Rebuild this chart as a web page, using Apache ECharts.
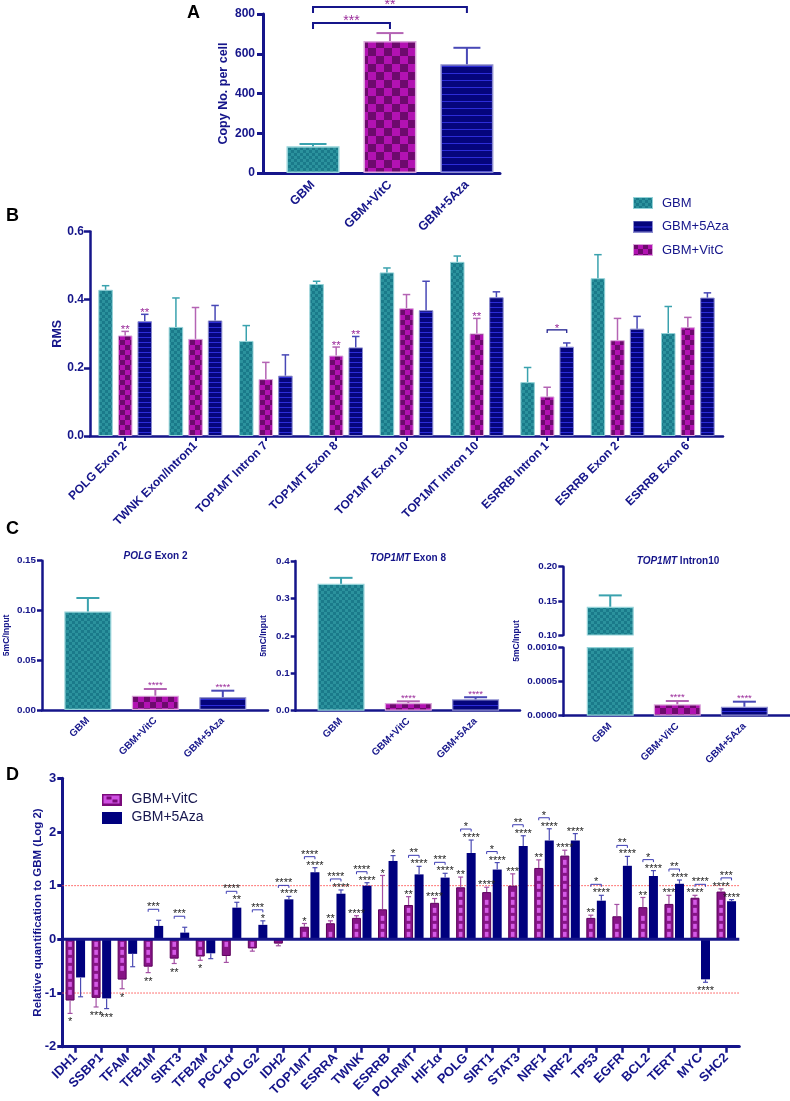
<!DOCTYPE html>
<html><head><meta charset="utf-8">
<script src="https://cdn.jsdelivr.net/npm/echarts@6/dist/echarts.min.js"></script>
<style>html,body{margin:0;padding:0;background:#fff}#c{width:790px;height:1101px}</style>
</head><body><div id="c"></div>
<script>
// ================= DATA =================
const groups = ['GBM', 'GBM+VitC', 'GBM+5Aza'];

// Panel A – copy number
const copyNo = [134, 664, 547];
const copyNoErr = [12, 40, 83];
const copyNoSig = [[0, 1, '***'], [0, 2, '**']];

// Panel B – RMS
const rmsSites = ['POLG Exon 2', 'TWNK Exon/Intron1', 'TOP1MT Intron 7', 'TOP1MT Exon 8', 'TOP1MT Exon 10', 'TOP1MT Intron 10', 'ESRRB Intron 1', 'ESRRB Exon 2', 'ESRRB Exon 6'];
const rmsGBM = [0.429, 0.320, 0.279, 0.446, 0.480, 0.511, 0.158, 0.463, 0.302];
const rmsGBMErr = [0.012, 0.085, 0.045, 0.008, 0.013, 0.017, 0.043, 0.069, 0.078];
const rmsVitC = [0.295, 0.285, 0.167, 0.236, 0.375, 0.301, 0.116, 0.281, 0.319];
const rmsVitCErr = [0.012, 0.092, 0.049, 0.025, 0.040, 0.044, 0.027, 0.064, 0.029];
const rmsAza = [0.337, 0.339, 0.177, 0.260, 0.369, 0.407, 0.262, 0.315, 0.406];
const rmsAzaErr = [0.020, 0.044, 0.061, 0.032, 0.085, 0.016, 0.011, 0.036, 0.014];
const rmsVitCSig = ['**', '', '', '**', '', '**', '', '', ''];
const rmsAzaSig = ['**', '', '', '**', '', '', '', '', ''];
const rmsPairSig = ['', '', '', '', '', '', '*', '', ''];

// Panel C – 5mC/Input
const cTitles = [['POLG', ' Exon 2'], ['TOP1MT', ' Exon 8'], ['TOP1MT', ' Intron10']];
const polgEx2 = [0.099, 0.0144, 0.0128];
const polgEx2Err = [0.0135, 0.0067, 0.0066];
const top1mtEx8 = [0.339, 0.0206, 0.0304];
const top1mtEx8Err = [0.016, 0.0045, 0.0056];
const top1mtIn10 = [0.1414, 0.000168, 0.000132];
const top1mtIn10Err = [0.0166, 0.000048, 0.000074];
const cSig = ['', '****', '****'];

// Panel D – relative quantification (log2)
const genes = ['IDH1', 'SSBP1', 'TFAM', 'TFB1M', 'SIRT3', 'TFB2M', 'PGC1α', 'POLG2', 'IDH2', 'TOP1MT', 'ESRRA', 'TWNK', 'ESRRB', 'POLRMT', 'HIF1α', 'POLG', 'SIRT1', 'STAT3', 'NRF1', 'NRF2', 'TP53', 'EGFR', 'BCL2', 'TERT', 'MYC', 'SHC2'];
const dVitC = [-1.14, -1.09, -0.75, -0.51, -0.36, -0.32, -0.31, -0.17, -0.08, 0.235, 0.30, 0.40, 0.56, 0.64, 0.68, 0.97, 0.88, 1.00, 1.33, 1.56, 0.40, 0.43, 0.60, 0.66, 0.775, 0.89];
const dVitCErr = [0.24, 0.17, 0.17, 0.11, 0.09, 0.07, 0.12, 0.05, 0.04, 0.06, 0.045, 0.04, 0.63, 0.155, 0.08, 0.19, 0.09, 0.22, 0.15, 0.10, 0.05, 0.22, 0.18, 0.16, 0.045, 0.05];
const dAza = [-0.71, -1.10, -0.27, 0.25, 0.125, -0.26, 0.59, 0.27, 0.745, 1.25, 0.85, 1.00, 1.46, 1.21, 1.15, 1.61, 1.30, 1.74, 1.84, 1.84, 0.72, 1.37, 1.18, 1.035, -0.745, 0.71];
const dAzaErr = [0.36, 0.19, 0.24, 0.105, 0.10, 0.10, 0.10, 0.075, 0.055, 0.085, 0.07, 0.055, 0.10, 0.15, 0.08, 0.24, 0.13, 0.19, 0.22, 0.13, 0.10, 0.175, 0.10, 0.07, 0.055, 0.03];
const dVitCSig = ['*', '***', '*', '**', '**', '*', '', '', '', '*', '**', '****', '*', '**', '****', '**', '****', '***', '**', '****', '**', '', '**', '***', '****', '****'];
const dAzaSig = ['', '***', '', '', '', '', '**', '*', '****', '****', '****', '****', '*', '****', '****', '****', '****', '****', '****', '****', '****', '****', '****', '****', '****', '****'];
const dPairSig = ['', '', '', '***', '***', '', '****', '***', '****', '****', '****', '****', '', '**', '***', '*', '*', '**', '*', '', '*', '**', '*', '**', '****', '***'];
const dRefLines = [1, -1];

// ================= STYLE =================
const AX = '#15158a';
const FF = '"Liberation Sans", Arial, Helvetica, sans-serif';
const PURPLE_TXT = '#9b2d9b';

function mkCanvas(w, h, fn) { const c = document.createElement('canvas'); c.width = w; c.height = h; fn(c.getContext('2d'), w, h); return c; }
function checker(cell, c1, c2) {
  return mkCanvas(cell * 2, cell * 2, g => { g.fillStyle = c1; g.fillRect(0, 0, cell * 2, cell * 2); g.fillStyle = c2; g.fillRect(0, 0, cell, cell); g.fillRect(cell, cell, cell, cell); });
}
function hlines(period, bg, fg) {
  return mkCanvas(4, period, g => { g.fillStyle = bg; g.fillRect(0, 0, 4, period); g.fillStyle = fg; g.fillRect(0, Math.floor(period / 2), 4, 1); });
}
const pat = c => ({ image: c, repeat: 'repeat' });
const tealA = '#1a7a8a', tealB = '#2b929d';
const magA = '#b212b2', magB = '#6d0a6d';
const navyA = '#05057c', navyB = '#2c2cd8';
const grpStyle = [
  { pat: s => pat(checker(s.tc, tealA, tealB)), border: '#93d2d8', err: '#3aa2ae' },
  { pat: s => pat(checker(s.mc, magA, magB)), border: '#dba6db', err: '#b464b4' },
  { pat: s => pat(hlines(s.lp, navyA, navyB)), border: '#8c8cd0', err: '#4848b6' }
];
function iconURL(fillCanvas, border) {
  return 'image://' + mkCanvas(20, 12, g => {
    g.fillStyle = g.createPattern(fillCanvas, 'repeat'); g.fillRect(0, 0, 20, 12);
    g.strokeStyle = border; g.lineWidth = 1; g.strokeRect(0.5, 0.5, 19, 11);
  }).toDataURL();
}
const dVitCIcon = 'image://' + mkCanvas(20, 12, g => {
  g.fillStyle = '#7a0a7a'; g.fillRect(0, 0, 20, 12);
  g.fillStyle = '#cf50e2'; g.fillRect(2, 2, 16, 8);
  g.fillStyle = '#7a0a7a'; g.fillRect(5, 3, 5, 3); g.fillRect(11, 6, 5, 3);
}).toDataURL();
const dAzaIcon = 'image://' + mkCanvas(20, 12, g => { g.fillStyle = '#00007e'; g.fillRect(0, 0, 20, 12); }).toDataURL();

function lbl(size, extra) { return Object.assign({ color: AX, fontWeight: 'bold', fontSize: size, fontFamily: FF }, extra || {}); }
function axLine(w) { return { show: true, onZero: false, lineStyle: { color: AX, width: w } }; }
function axTick(len, w, extra) { return Object.assign({ show: true, length: len, lineStyle: { color: AX, width: w } }, extra || {}); }
const noSplit = { show: false };
function yName(text, gap, size) {
  return { name: text, nameLocation: 'middle', nameGap: gap, nameRotate: 90, nameMoveOverlap: false, nameTextStyle: lbl(size) };
}

function starText(t, x, glyphY, fs, color) {
  return { type: 'text', silent: true, style: { text: t, x: x, y: glyphY + 0.23 * fs, font: fs + 'px ' + FF, fill: color, align: 'center', verticalAlign: 'middle', textAlign: 'center', textVerticalAlign: 'middle' } };
}
function errBars(o) {
  return {
    type: 'custom', xAxisIndex: o.g, yAxisIndex: o.g, silent: true, z: o.z || 4, clip: false,
    data: o.vals.map((v, i) => [i, v == null ? NaN : v, o.errs[i], i]),
    encode: { x: 0, y: 1 },
    renderItem: (params, api) => {
      const x = api.value(0), v = api.value(1), e = api.value(2), i = api.value(3);
      if (isNaN(v)) return null;
      const s = v < 0 ? -1 : 1;
      const p0 = api.coord([x, v]);
      const p1 = api.coord([x, v + s * e]);
      const cx = p0[0] + (o.off || 0);
      const ls = { stroke: o.color, lineWidth: o.lw };
      const kids = [
        { type: 'line', shape: { x1: cx, y1: p0[1], x2: cx, y2: p1[1] }, style: ls },
        { type: 'line', shape: { x1: cx - o.cap / 2, y1: p1[1], x2: cx + o.cap / 2, y2: p1[1] }, style: ls }
      ];
      const t = o.sig && o.sig[i];
      if (t) kids.push(starText(t, cx, s > 0 ? p1[1] - o.sgap : p1[1] + o.sgapNeg, o.sfs, o.scolor));
      return { type: 'group', children: kids };
    }
  };
}
// horizontal reference lines across a grid, drawn through the value axis
function hRefLines(g, values, stroke, width, dash, z) {
  return {
    type: 'custom', xAxisIndex: g, yAxisIndex: g, silent: true, z: z, clip: false,
    data: values.map(v => [0, v]), encode: { x: 0, y: 1 },
    renderItem: (params, api) => {
      const cs = params.coordSys;
      const y = api.coord([0, api.value(1)])[1];
      return { type: 'line', shape: { x1: cs.x, y1: y, x2: cs.x + cs.width, y2: y },
        style: { stroke: stroke, lineWidth: width, lineDash: dash || null } };
    }
  };
}

const series = [];
const xAxes = [], yAxes = [], grids = [];

// ---------- Panel A ----------
grids.push({ left: 263, top: 14, width: 237, height: 159 });
xAxes.push({ type: 'value', gridIndex: 0, min: -0.65, max: 2.43, axisLine: axLine(3), axisTick: { show: false }, splitLine: noSplit,
  axisLabel: lbl(12.5, { rotate: 45, margin: 10, customValues: [0, 1, 2], formatter: v => groups[Math.round(v)] }) });
yAxes.push(Object.assign({ type: 'value', gridIndex: 0, min: 0, max: 800, interval: 200, axisLine: axLine(3), axisTick: axTick(6, 3), splitLine: noSplit,
  axisLabel: lbl(12, { margin: 8 }) }, yName('Copy No. per cell', 33, 12.5)));
const styA = { tc: 3, mc: 8, lp: 7 };
series.push({ type: 'bar', xAxisIndex: 0, yAxisIndex: 0, barWidth: 53, z: 2,
  data: copyNo.map((v, i) => ({ value: [i, v], itemStyle: { color: grpStyle[i].pat(styA), borderColor: grpStyle[i].border, borderWidth: 1.5 } })) });
groups.forEach((gname, i) => {
  const vals = copyNo.map((v, j) => j === i ? v : null);
  series.push(errBars({ g: 0, vals, errs: copyNoErr, off: 0, cap: 27, color: grpStyle[i].err, lw: 2 }));
});
series.push({ type: 'custom', xAxisIndex: 0, yAxisIndex: 0, silent: true, z: 5, clip: false,
  data: copyNoSig.map((s, k) => [s[0], s[1], k]), encode: { x: 0, y: 1 },
  renderItem: (params, api) => {
    const a = api.value(0), b = api.value(1), k = api.value(2);
    const maxEnd = Math.max(...copyNo.map((v, i) => v + copyNoErr[i]));
    const y = api.coord([0, maxEnd])[1] - 10 - 16 * k;
    const xa = api.coord([a, 0])[0], xb = api.coord([b, 0])[0];
    return { type: 'group', children: [
      { type: 'polyline', shape: { points: [[xa, y + 6], [xa, y], [xb, y], [xb, y + 6]] }, style: { stroke: AX, lineWidth: 2, fill: null } },
      starText(copyNoSig[k][2], (xa + xb) / 2, y - 5, 14, PURPLE_TXT)
    ] };
  } });

// ---------- Panel B ----------
grids.push({ left: 90, top: 231.5, width: 633, height: 204.5 });
xAxes.push({ type: 'category', gridIndex: 1, data: rmsSites, axisLine: axLine(2.5), axisTick: axTick(5, 2, { alignWithLabel: true, interval: 0 }),
  axisLabel: lbl(12, { rotate: 45, margin: 8, interval: 0 }) });
yAxes.push(Object.assign({ type: 'value', gridIndex: 1, min: 0, max: 0.6, interval: 0.2, axisLine: axLine(2.5), axisTick: axTick(6, 2.5), splitLine: noSplit,
  axisLabel: lbl(12, { margin: 6, formatter: v => v.toFixed(1) }) }, yName('RMS', 26, 12.5)));
const styB = { tc: 3, mc: 5, lp: 5 };
const bW = 14.5, bGapPct = 35, bStep = bW * (1 + bGapPct / 100);
const rmsSets = [[rmsGBM, rmsGBMErr, null], [rmsVitC, rmsVitCErr, rmsVitCSig], [rmsAza, rmsAzaErr, rmsAzaSig]];
rmsSets.forEach((set, i) => {
  series.push({ type: 'bar', name: groups[i], xAxisIndex: 1, yAxisIndex: 1, barWidth: bW, barGap: bGapPct + '%', z: 2,
    itemStyle: { color: grpStyle[i].pat(styB), borderColor: grpStyle[i].border, borderWidth: 1 }, data: set[0] });
  series.push(errBars({ g: 1, vals: set[0], errs: set[1], off: (i - 1) * bStep, cap: 7.5, color: grpStyle[i].err, lw: 1.5,
    sig: set[2], sgap: 4.3, sgapNeg: 6, sfs: 11.5, scolor: PURPLE_TXT }));
});
series.push({ type: 'custom', xAxisIndex: 1, yAxisIndex: 1, silent: true, z: 5, clip: false,
  data: rmsSites.map((s, i) => [i, rmsVitC[i], i]), encode: { x: 0, y: 1 },
  renderItem: (params, api) => {
    const i = api.value(2); const t = rmsPairSig[i]; if (!t) return null;
    const e1 = api.coord([i, rmsVitC[i] + rmsVitCErr[i]])[1], e2 = api.coord([i, rmsAza[i] + rmsAzaErr[i]])[1];
    const c = api.coord([i, 0])[0];
    const y = Math.min(e1, e2) - 13;
    return { type: 'group', children: [
      { type: 'polyline', shape: { points: [[c, y + 3], [c, y], [c + bStep, y], [c + bStep, y + 3]] }, style: { stroke: AX, lineWidth: 1.2, fill: null } },
      starText(t, c + bStep / 2, y - 4, 11.5, PURPLE_TXT)
    ] };
  } });

// ---------- Panel C ----------
const styC = { tc: 3, mc: 6, lp: 6 };
const cDefs = [
  { grid: { left: 42, top: 560.7, width: 226, height: 149.3 }, xmin: -0.68, xmax: 2.67, ymin: 0, ymax: 0.15, iv: 0.05, dec: 2, vals: polgEx2, errs: polgEx2Err, name: true, nameGap: 31 },
  { grid: { left: 295.7, top: 561, width: 224.3, height: 149.7 }, xmin: -0.674, xmax: 2.66, ymin: 0, ymax: 0.4, iv: 0.1, dec: 1, vals: top1mtEx8, errs: top1mtEx8Err, name: true, nameGap: 27.5 },
  { grid: { left: 563.3, top: 566.7, width: 226.7, height: 68.3 }, xmin: -0.70, xmax: 2.68, ymin: 0.10, ymax: 0.20, iv: 0.05, dec: 2, vals: top1mtIn10, errs: top1mtIn10Err, hideX: true },
  { grid: { left: 563.3, top: 647.7, width: 226.7, height: 68 }, xmin: -0.70, xmax: 2.68, ymin: 0, ymax: 0.001, iv: 0.0005, dec: 4, vals: top1mtIn10, errs: top1mtIn10Err }
];
cDefs.forEach((d, k) => {
  const gi = 2 + k;
  grids.push(d.grid);
  xAxes.push({ type: 'value', gridIndex: gi, show: !d.hideX, min: d.xmin, max: d.xmax, axisLine: axLine(2.5), axisTick: { show: false }, splitLine: noSplit,
    axisLabel: lbl(10, { rotate: 45, margin: 9, customValues: [0, 1, 2], formatter: v => groups[Math.round(v)] }) });
  const ya = { type: 'value', gridIndex: gi, min: d.ymin, max: d.ymax, interval: d.iv, axisLine: axLine(2.5), axisTick: axTick(5, 2.5), splitLine: noSplit,
    axisLabel: lbl(9.8, { margin: 6, formatter: v => v.toFixed(d.dec) }) };
  if (d.name) Object.assign(ya, yName('5mC/Input', d.nameGap, 8.5));
  yAxes.push(ya);
  const shown = d.vals.map(v => (v >= d.ymin ? v : null));
  series.push({ type: 'bar', xAxisIndex: gi, yAxisIndex: gi, barWidth: 47, z: 2, clip: true,
    data: d.vals.map((v, i) => (v >= d.ymin || d.ymin === 0) ? ({ value: [i, v], itemStyle: { color: grpStyle[i].pat(styC), borderColor: grpStyle[i].border, borderWidth: 1.2 } }) : null).filter(x => x) });
  groups.forEach((gname, i) => {
    const v = shown[i];
    if (v == null || (d.ymin === 0 && d.vals[i] > d.ymax)) return;
    const vals = d.vals.map((x, j) => j === i ? x : null);
    series.push(errBars({ g: gi, vals, errs: d.errs, off: 0, cap: 23, color: grpStyle[i].err, lw: 2,
      sig: cSig, sgap: 5.5, sgapNeg: 6, sfs: 9.5, scolor: PURPLE_TXT }));
  });
});

// ---------- Panel D ----------
grids.push({ left: 62.3, top: 778.3, width: 677, height: 268.4 });
xAxes.push({ type: 'category', gridIndex: 6, data: genes, axisLine: axLine(3), axisTick: axTick(6, 2.5, { alignWithLabel: true, interval: 0 }),
  axisLabel: lbl(13, { rotate: 45, margin: 9, interval: 0 }) });
yAxes.push(Object.assign({ type: 'value', gridIndex: 6, min: -2, max: 3, interval: 1, axisLine: axLine(3), axisTick: axTick(5, 3), splitLine: noSplit,
  axisLabel: lbl(13, { margin: 6 }) }, yName('Relative quantification to GBM (Log 2)', 18.5, 11.5)));
const dW = 9, dGapPct = 17, dStep = dW * (1 + dGapPct / 100);
series.push(hRefLines(6, dRefLines, '#ff4a4a', 1, [1.5, 1.5], 1));
series.push(hRefLines(6, [0], AX, 3, null, 6));
series.push({ type: 'bar', name: 'GBM+VitC', xAxisIndex: 6, yAxisIndex: 6, barWidth: dW, barGap: dGapPct + '%', z: 2,
  itemStyle: { color: '#861486', borderColor: '#5c005c', borderWidth: 1 }, data: dVitC });
series.push({ type: 'bar', name: 'GBM+5Aza', xAxisIndex: 6, yAxisIndex: 6, barWidth: dW, barGap: dGapPct + '%', z: 2,
  itemStyle: { color: '#00007e' }, data: dAza });
// dashes decoration inside VitC bars
series.push({ type: 'custom', xAxisIndex: 6, yAxisIndex: 6, silent: true, z: 3,
  data: dVitC.map((v, i) => [i, v]), encode: { x: 0, y: 1 },
  renderItem: (params, api) => {
    const i = api.value(0), v = api.value(1);
    const p0 = api.coord([i, 0]), p1 = api.coord([i, v]);
    const cx = p0[0] - dStep / 2;
    const len = Math.abs(p1[1] - p0[1]);
    const kids = [];
    for (let d = 2.5; d + 5 <= len - 1.5; d += 8) {
      const y = v > 0 ? p0[1] - d - 5 : p0[1] + d;
      kids.push({ type: 'rect', shape: { x: cx - 1.8, y: y, width: 3.6, height: 5 }, style: { fill: '#d45ae6' } });
    }
    return { type: 'group', children: kids };
  } });
series.push(errBars({ g: 6, vals: dVitC, errs: dVitCErr, off: -dStep / 2, cap: 5, color: '#a450a4', lw: 1.2,
  sig: dVitCSig, sgap: 4.5, sgapNeg: 6.5, sfs: 11, scolor: '#1e1e1e' }));
series.push(errBars({ g: 6, vals: dAza, errs: dAzaErr, off: dStep / 2, cap: 5, color: '#4c4cb4', lw: 1.2,
  sig: dAzaSig, sgap: 4.5, sgapNeg: 6.5, sfs: 11, scolor: '#1e1e1e' }));
series.push({ type: 'custom', xAxisIndex: 6, yAxisIndex: 6, silent: true, z: 5, clip: false,
  data: genes.map((g, i) => [i, dAza[i], i]), encode: { x: 0, y: 1 },
  renderItem: (params, api) => {
    const i = api.value(2); const t = dPairSig[i]; if (!t) return null;
    const ends = [[dVitC[i], dVitCErr[i]], [dAza[i], dAzaErr[i]]].map(([v, e]) => v > 0 ? api.coord([i, v + e])[1] : api.coord([i, 0])[1]);
    const c = api.coord([i, 0])[0];
    const y = Math.min(...ends) - 11;
    const x1 = c - dStep / 2, x2 = c + dStep / 2;
    return { type: 'group', children: [
      { type: 'polyline', shape: { points: [[x1, y + 2.5], [x1, y], [x2, y], [x2, y + 2.5]] }, style: { stroke: '#3c3cb4', lineWidth: 1, fill: null } },
      starText(t, c, y - 4.5, 11, '#1e1e1e')
    ] };
  } });

grids.forEach(g => { g.outerBoundsMode = 'none'; g.containLabel = false; });

// ---------- Legends ----------
const legendB = {
  orient: 'vertical', left: 628, top: 191.5, itemWidth: 20, itemHeight: 12, itemGap: 10.5, selectedMode: false,
  textStyle: { color: AX, fontSize: 13, fontFamily: FF, padding: [0, 0, 0, 4] },
  data: [
    { name: 'GBM', icon: iconURL(checker(3, tealA, tealB), '#93d2d8') },
    { name: 'GBM+5Aza', icon: iconURL(hlines(12, navyA, navyB), '#8c8cd0') },
    { name: 'GBM+VitC', icon: iconURL(checker(5, magA, magB), '#dba6db') }
  ]
};
const legendD = {
  orient: 'vertical', left: 96.5, top: 787.5, itemWidth: 20, itemHeight: 12.5, itemGap: 4, selectedMode: false,
  textStyle: { color: '#17174f', fontSize: 14, fontFamily: FF, padding: [0, 0, 0, 5] },
  data: [{ name: 'GBM+VitC', icon: dVitCIcon }, { name: 'GBM+5Aza', icon: dAzaIcon }]
};

// ---------- Text graphics ----------
function gText(text, x, y, font, color, align, rotation) {
  return { type: 'text', x: x, y: y, rotation: rotation || 0, silent: true,
    style: { text: text, font: font, fill: color, align: align || 'left', verticalAlign: 'middle', textAlign: align || 'left', textVerticalAlign: 'middle' } };
}
const cTitlePos = [[155.5, 556.7], [408, 558], [678, 561.7]];
const graphic = [
  gText('A', 187, 13.5, 'bold 18px ' + FF, '#000'),
  gText('B', 6, 216.5, 'bold 18px ' + FF, '#000'),
  gText('C', 6, 529.5, 'bold 18px ' + FF, '#000'),
  gText('D', 6, 775, 'bold 18px ' + FF, '#000'),
  gText('5mC/Input', 517, 641, 'bold 8.5px ' + FF, AX, 'center', Math.PI / 2)
].concat(cTitles.map((t, k) => ({
  type: 'text', x: cTitlePos[k][0], y: cTitlePos[k][1], silent: true,
  style: { text: '{i|' + t[0] + '}{n|' + t[1] + '}', align: 'center', verticalAlign: 'middle', textAlign: 'center', textVerticalAlign: 'middle',
    rich: { i: { fontStyle: 'italic', fontWeight: 'bold', fontSize: 10, fontFamily: FF, fill: AX, color: AX },
            n: { fontWeight: 'bold', fontSize: 10, fontFamily: FF, fill: AX, color: AX } } }
})));

const chart = echarts.init(document.getElementById('c'), null, { renderer: 'canvas' });
chart.setOption({
  animation: false,
  backgroundColor: '#fff',
  grid: grids, xAxis: xAxes, yAxis: yAxes,
  legend: [legendB, legendD],
  graphic: graphic,
  series: series
});
</script></body></html>
